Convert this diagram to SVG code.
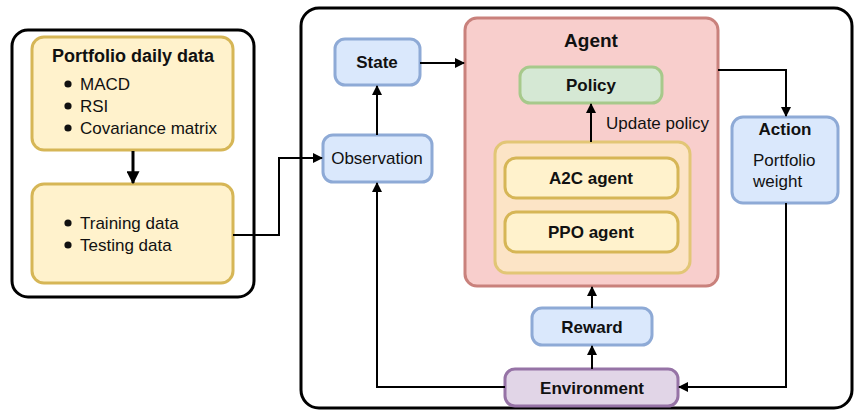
<svg xmlns="http://www.w3.org/2000/svg" width="854" height="411" viewBox="0 0 854 411">
  <defs>
    <marker id="arrow" viewBox="0 0 10 10" refX="9" refY="5" markerWidth="10" markerHeight="10" markerUnits="userSpaceOnUse" orient="auto">
      <path d="M0,0 L10,5 L0,10 z" fill="#000"/>
    </marker>
    <marker id="arrowBig" viewBox="0 0 10 10" refX="9" refY="5" markerWidth="13" markerHeight="13" markerUnits="userSpaceOnUse" orient="auto">
      <path d="M0,0 L10,5 L0,10 z" fill="#000"/>
    </marker>
  </defs>
  <style>
    text { font-family: "Liberation Sans", Arial, sans-serif; fill: #111; }
    .b { font-weight: bold; font-size: 17px; text-anchor: middle; }
    .n { font-size: 17px; }
    .c { text-anchor: middle; }
    .frame { fill: #fff; stroke: #000; stroke-width: 3; }
    .yellow { fill: #fff2cc; stroke: #d6b656; stroke-width: 3; }
    .blue { fill: #dae8fc; stroke: #8eaad6; stroke-width: 3; }
    .red { fill: #f8cecc; stroke: #c9817c; stroke-width: 3; }
    .green { fill: #d5e8d4; stroke: #a7c98b; stroke-width: 3; }
    .peach { fill: #fce4c6; stroke: #e2c676; stroke-width: 3; }
    .purple { fill: #e1d5e7; stroke: #9673a6; stroke-width: 3; }
    .edge { fill: none; stroke: #000; stroke-width: 2; marker-end: url(#arrow); }
  </style>

  <!-- data preparation panel -->
  <g id="data-panel">
    <rect class="frame" x="12" y="30" width="242" height="267" rx="16"/>
  </g>
  <g id="portfolio-data">
    <rect class="yellow" x="32" y="37" width="201" height="113" rx="12"/>
    <text class="b" x="133" y="62" style="font-size:18px">Portfolio daily data</text>
    <circle cx="68" cy="84" r="3.6" fill="#111"/>
    <circle cx="68" cy="106" r="3.6" fill="#111"/>
    <circle cx="68" cy="128" r="3.6" fill="#111"/>
    <text class="n" x="80" y="90">MACD</text>
    <text class="n" x="80" y="112">RSI</text>
    <text class="n" x="80" y="134">Covariance matrix</text>
  </g>
  <g id="train-test">
    <rect class="yellow" x="32" y="184" width="201" height="99" rx="12"/>
    <circle cx="68" cy="223" r="3.6" fill="#111"/>
    <circle cx="68" cy="245" r="3.6" fill="#111"/>
    <text class="n" x="80" y="229">Training data</text>
    <text class="n" x="80" y="251">Testing data</text>
  </g>

  <!-- reinforcement learning loop panel -->
  <g id="rl-panel">
    <rect class="frame" x="301" y="8" width="551" height="400" rx="18"/>
  </g>
  <g id="state">
    <rect class="blue" x="335" y="39" width="85" height="46" rx="10"/>
    <text class="b" x="377" y="68">State</text>
  </g>
  <g id="observation">
    <rect class="blue" x="323" y="135" width="109" height="47" rx="10"/>
    <text class="n c" x="377" y="164">Observation</text>
  </g>
  <g id="agent">
    <rect class="red" x="465" y="18" width="253" height="268" rx="12"/>
    <text class="b" x="591" y="47" style="font-size:19px">Agent</text>
  </g>
  <g id="policy">
    <rect class="green" x="520" y="67" width="142" height="36" rx="10"/>
    <text class="b" x="591" y="91">Policy</text>
  </g>
  <g id="algorithms">
    <rect class="peach" x="495" y="142" width="195" height="131" rx="12"/>
  </g>
  <g id="a2c">
    <rect class="yellow" x="505" y="158" width="173" height="40" rx="11"/>
    <text class="b" x="591" y="184">A2C agent</text>
  </g>
  <g id="ppo">
    <rect class="yellow" x="505" y="212" width="173" height="40" rx="11"/>
    <text class="b" x="591" y="238">PPO agent</text>
  </g>
  <g id="action">
    <rect class="blue" x="732" y="117" width="106" height="86" rx="11"/>
    <text class="b" x="785" y="135">Action</text>
    <text class="n" x="753" y="166">Portfolio</text>
    <text class="n" x="753" y="187">weight</text>
  </g>
  <g id="reward">
    <rect class="blue" x="532" y="308" width="120" height="37" rx="10"/>
    <text class="b" x="592" y="333">Reward</text>
  </g>
  <g id="environment">
    <rect class="purple" x="505" y="369" width="173" height="37" rx="10"/>
    <text class="b" x="592" y="394">Environment</text>
  </g>

  <!-- connectors -->
  <g id="connectors">
    <path d="M133,151 L133,183" fill="none" stroke="#000" stroke-width="3" marker-end="url(#arrowBig)"/>
    <path class="edge" d="M233,235 L279,235 L279,158 L322,158"/>
    <path class="edge" d="M377,135 L377,86"/>
    <path class="edge" d="M420,63 L464,63"/>
    <path class="edge" d="M718,70 L786,70 L786,116"/>
    <path class="edge" d="M786,203 L786,387 L679,387"/>
    <path class="edge" d="M505,387 L377,387 L377,183"/>
    <path class="edge" d="M592,369 L592,346"/>
    <path class="edge" d="M592,308 L592,287"/>
    <path class="edge" d="M591,142 L591,104"/>
    <text class="n" x="606" y="129">Update policy</text>
  </g>
</svg>
